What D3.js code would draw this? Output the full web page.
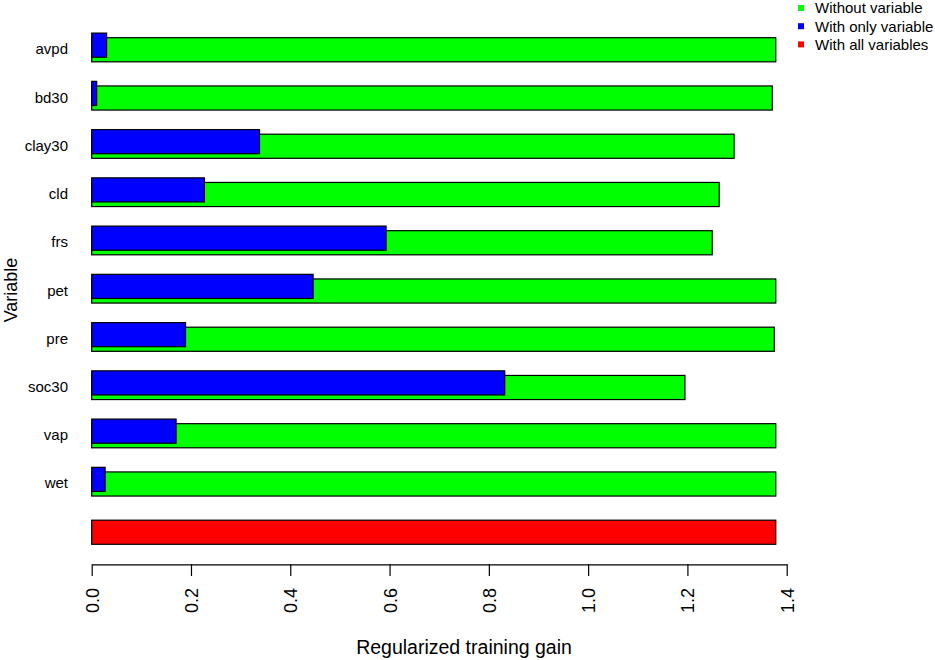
<!DOCTYPE html>
<html>
<head>
<meta charset="utf-8">
<script src="https://cdn.jsdelivr.net/npm/d3@7"></script>
<style>
  body { margin: 0; background: #fff; }
  text { font-family: "Liberation Sans", Arial, sans-serif; fill: #000; }
</style>
</head>
<body>
<div id="chart"></div>
<script>
// jackknife of regularized training gain
var variables = ['avpd', 'bd30', 'clay30', 'cld', 'frs', 'pet', 'pre', 'soc30', 'vap', 'wet']
var withoutGain = [1.378, 1.371, 1.294, 1.264, 1.250, 1.378, 1.375, 1.195, 1.378, 1.378]
var onlyGain = [0.030, 0.010, 0.338, 0.227, 0.593, 0.446, 0.189, 0.832, 0.170, 0.027]
var allGain = 1.378
var xTicks = [0, 0.2, 0.4, 0.6, 0.8, 1.0, 1.2, 1.4]
var legendLabels = ['Without variable', 'With only variable', 'With all variables']

var width = 935,
    height = 660,
    colors = ['#00ff00', '#0000ff', '#ff0000'],
    blueShift = 4.6

var svg = d3.select('#chart').append('svg')
    .attr('width', width)
    .attr('height', height)

var x = d3.scaleLinear()
    .domain([0, 1.4])
    .range([91.7, 786.7])

var rows = variables.concat(['__all'])
var y = d3.scaleBand()
    .domain(rows)
    .range([37.7, 544.3])
    .paddingInner(0.5)
    .paddingOuter(0)

var bars = svg.append('g')

// green: model without the variable
bars.selectAll('.without')
    .data(variables)
    .enter().append('rect')
    .attr('class', 'without')
    .attr('x', x(0))
    .attr('y', function(d) { return y(d) })
    .attr('width', function(d, i) { return x(withoutGain[i]) - x(0) })
    .attr('height', y.bandwidth())
    .attr('fill', colors[0])
    .attr('stroke', '#000')
    .attr('stroke-width', 1.2)

// blue: model with only the variable, drawn a bit higher
bars.selectAll('.only')
    .data(variables)
    .enter().append('rect')
    .attr('class', 'only')
    .attr('x', x(0))
    .attr('y', function(d) { return y(d) - blueShift })
    .attr('width', function(d, i) { return x(onlyGain[i]) - x(0) })
    .attr('height', y.bandwidth())
    .attr('fill', colors[1])
    .attr('stroke', '#000')
    .attr('stroke-width', 1.2)

// red: all variables
bars.append('rect')
    .attr('x', x(0))
    .attr('y', y('__all'))
    .attr('width', x(allGain) - x(0))
    .attr('height', y.bandwidth())
    .attr('fill', colors[2])
    .attr('stroke', '#000')
    .attr('stroke-width', 1.2)

// variable names
svg.append('g').selectAll('text')
    .data(variables)
    .enter().append('text')
    .attr('x', 68)
    .attr('y', function(d) { return y(d) + y.bandwidth() / 2 })
    .attr('dy', '0.3em')
    .attr('text-anchor', 'end')
    .style('font-size', '15px')
    .text(function(d) { return d })

// x axis
var xAxis = svg.append('g')
    .attr('transform', 'translate(0,564.3)')
    .call(d3.axisBottom(x)
        .tickValues(xTicks)
        .tickFormat(d3.format('.1f'))
        .tickSize(11.7)
        .tickSizeOuter(0))

xAxis.select('.domain').attr('stroke', '#000').attr('stroke-width', 1.2)
xAxis.selectAll('.tick line').attr('stroke', '#000').attr('stroke-width', 1.2)
xAxis.selectAll('.tick text')
    .attr('transform', 'rotate(-90)')
    .attr('x', -23.7)
    .attr('y', 0)
    .attr('dy', '0.36em')
    .attr('text-anchor', 'end')
    .style('font-family', '"Liberation Sans", Arial, sans-serif')
    .style('font-size', '18px')
    .attr('fill', '#000')

// axis titles
svg.append('text')
    .attr('x', 464)
    .attr('y', 654)
    .attr('text-anchor', 'middle')
    .style('font-size', '19.5px')
    .text('Regularized training gain')

svg.append('text')
    .attr('transform', 'translate(16.5,290) rotate(-90)')
    .attr('text-anchor', 'middle')
    .style('font-size', '18px')
    .text('Variable')

// legend
var legend = svg.append('g').selectAll('g')
    .data(legendLabels)
    .enter().append('g')
    .attr('transform', function(d, i) { return 'translate(0,' + (8 + i * 18.2) + ')' })

legend.append('rect')
    .attr('x', 798)
    .attr('y', -3)
    .attr('width', 6)
    .attr('height', 6)
    .attr('fill', function(d, i) { return colors[i] })

legend.append('text')
    .attr('x', 815)
    .attr('y', 5.4)
    .style('font-size', '15px')
    .text(function(d) { return d })
</script>
</body>
</html>
